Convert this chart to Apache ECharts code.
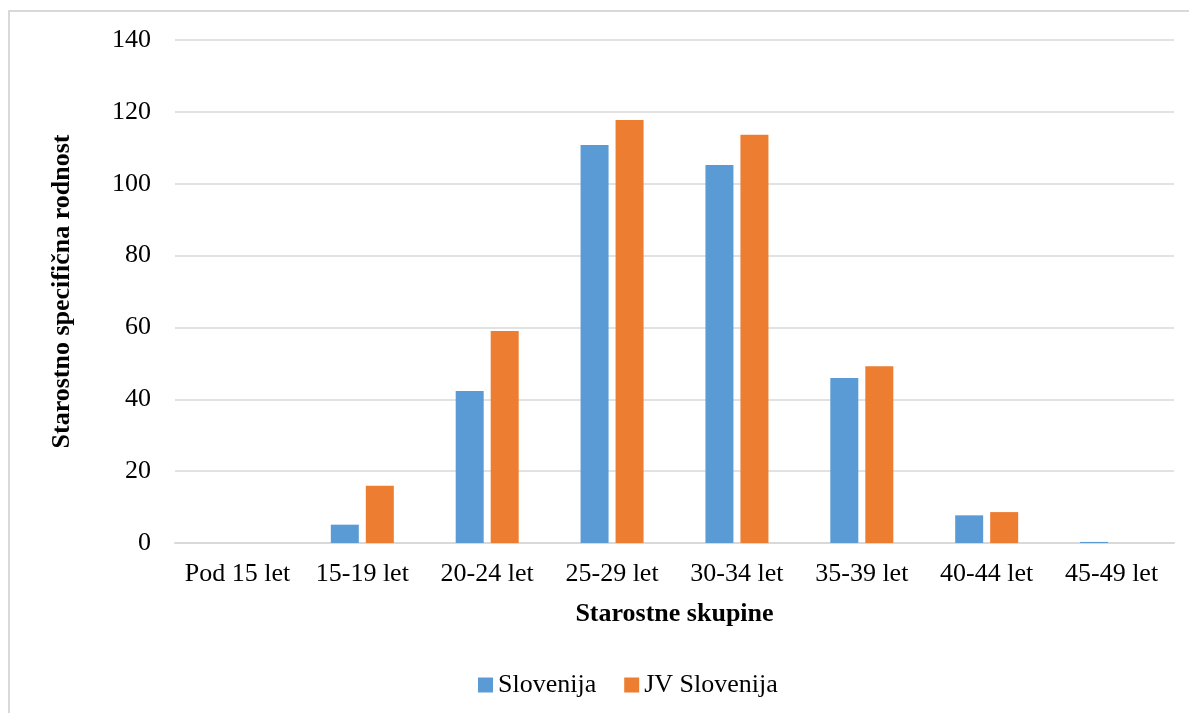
<!DOCTYPE html>
<html>
<head>
<meta charset="utf-8">
<script src="https://cdn.jsdelivr.net/npm/echarts@6/dist/echarts.min.js"></script>
<style>html,body{margin:0;padding:0;background:#fff;}#c{width:1189px;height:713px;}</style>
</head>
<body>
<div id="c"></div>
<script>
const categories = ['Pod 15 let','15-19 let','20-24 let','25-29 let','30-34 let','35-39 let','40-44 let','45-49 let'];
const slovenija = [0, 5.1, 42.3, 110.8, 105.2, 45.9, 7.7, 0.3];
const jvSlovenija = [0, 15.9, 59.0, 117.7, 113.6, 49.2, 8.6, 0];
const seriesNames = ['Slovenija', 'JV Slovenija'];

const font = 'Liberation Serif, Times New Roman, serif';
const chart = echarts.init(document.getElementById('c'), null, {renderer: 'canvas'});
chart.setOption({
  animation: false,
  textStyle: {fontFamily: font},
  graphic: [
    {type: 'polyline', shape: {points: [[9, 713], [9, 11], [1189, 11]]}, style: {stroke: '#d9d9d9', lineWidth: 2, fill: null}, silent: true}
  ],
  grid: {left: 175, right: 15, top: 40, bottom: 170, containLabel: false},
  legend: {
    data: seriesNames,
    bottom: 10,
    left: 473,
    itemWidth: 15, itemHeight: 15, itemGap: 28,
    icon: 'rect',
    textStyle: {fontFamily: font, fontSize: 26, color: '#000'}
  },
  xAxis: {
    type: 'category',
    data: categories,
    name: 'Starostne skupine',
    nameLocation: 'middle',
    nameGap: 58,
    nameTextStyle: {fontFamily: font, fontSize: 26, fontWeight: 'bold', color: '#000'},
    axisLine: {lineStyle: {color: '#d9d9d9', width: 2}},
    axisTick: {show: false},
    axisLabel: {interval: 0, hideOverlap: false, fontFamily: font, fontSize: 26, color: '#000', margin: 18}
  },
  yAxis: {
    type: 'value',
    min: 0, max: 140, interval: 20,
    name: 'Starostno specifična rodnost',
    nameLocation: 'middle',
    nameGap: 100,
    nameTextStyle: {fontFamily: font, fontSize: 26, fontWeight: 'bold', color: '#000'},
    axisLine: {show: false},
    axisTick: {show: false},
    axisLabel: {fontFamily: font, fontSize: 26, color: '#000', margin: 24},
    splitLine: {lineStyle: {color: '#d9d9d9', width: 1.5}}
  },
  series: [
    {name: seriesNames[0], type: 'bar', data: slovenija, barWidth: 28, barGap: '25%', itemStyle: {color: '#5b9bd5'}},
    {name: seriesNames[1], type: 'bar', data: jvSlovenija, barWidth: 28, itemStyle: {color: '#ed7d31'}}
  ]
});
</script>
</body>
</html>
